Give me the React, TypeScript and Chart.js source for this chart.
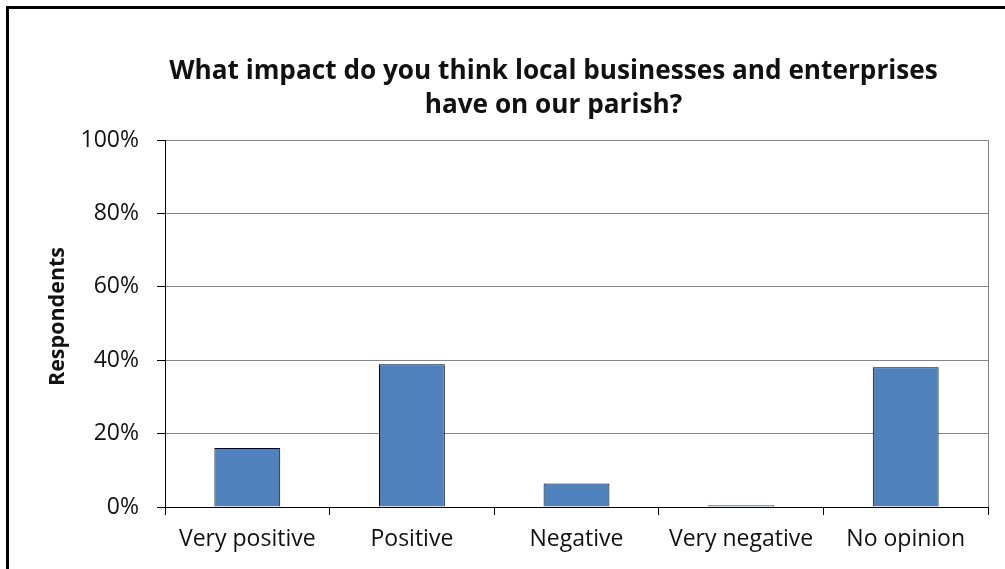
import React, { useEffect, useRef } from "react";
import { Chart, registerables } from "chart.js";

Chart.register(...registerables);

const categories = ["Very positive", "Positive", "Negative", "Very negative", "No opinion"];
const values = [16.1, 38.9, 6.4, 0.5, 38.1];
const yTicks = [0, 20, 40, 60, 80, 100];
const titleLines = ["What impact do you think local businesses and enterprises", "have on our parish?"];
const yTitle = "Respondents";

const textColor = "#111";

const plotBorder = {
  id: "plotBorder",
  beforeDatasetsDraw(chart: any) {
    const { ctx, chartArea } = chart;
    ctx.save();
    ctx.strokeStyle = "#808080";
    ctx.lineWidth = 1;
    ctx.beginPath();
    const x = Math.round(chartArea.right) + 0.5;
    ctx.moveTo(x, chartArea.top);
    ctx.lineTo(x, chartArea.bottom);
    ctx.stroke();
    ctx.restore();
  },
};

const titles = {
  id: "customTitles",
  afterDraw(chart: any) {
    const { ctx, chartArea } = chart;
    ctx.save();
    ctx.fillStyle = textColor;
    ctx.textAlign = "center";
    ctx.textBaseline = "middle";
    ctx.font = "bold 26.2px 'Open Sans'";
    const cx = chartArea.left + (chartArea.right - chartArea.left) * 0.472;
    titleLines.forEach((line, i) => {
      ctx.fillText(line, cx, chartArea.top - 68 + i * 34);
    });
    ctx.font = "bold 21.5px 'Open Sans'";
    ctx.translate(chartArea.left - 107, (chartArea.top + chartArea.bottom) / 2 - 7);
    ctx.rotate(-Math.PI / 2);
    ctx.fillText(yTitle, 0, 0);
    ctx.restore();
  },
};

export default function App() {
  const ref = useRef<HTMLCanvasElement>(null);
  useEffect(() => {
    if (!ref.current) return;
    const chart = new Chart(ref.current, {
      type: "bar",
      data: {
        labels: categories,
        datasets: [
          {
            data: values,
            backgroundColor: "#4F81BD",
            borderColor: "#000",
            borderWidth: 1,
            categoryPercentage: 0.4,
            barPercentage: 1,
          },
        ],
      },
      plugins: [plotBorder, titles],
      options: {
        animation: false,
        responsive: false,
        maintainAspectRatio: false,
        layout: { padding: { left: 0, right: 17, top: 140, bottom: 0 } },
        plugins: {
          legend: { display: false },
          tooltip: { enabled: false },
          title: { display: false },
        },
        scales: {
          x: {
            offset: true,
            grid: {
              offset: true,
              drawOnChartArea: false,
              drawTicks: true,
              tickLength: 8,
              tickColor: "#000",
            },
            border: { color: "#000", width: 1 },
            ticks: {
              color: textColor,
              font: { family: "Open Sans", size: 23 },
              padding: 11,
              maxRotation: 0,
              autoSkip: false,
            },
            afterFit(scale: any) {
              scale.height = 62;
            },
          },
          y: {
            min: 0,
            max: 100,
            afterBuildTicks(scale: any) {
              scale.ticks = yTicks.map((v) => ({ value: v }));
            },
            grid: {
              color: "#868686",
              tickColor: "#000",
              tickLength: 8,
            },
            border: { color: "#000", width: 1 },
            ticks: {
              color: textColor,
              font: { family: "Open Sans", size: 23 },
              padding: 18,
              callback: (v: any) => `${v}%`,
            },
            afterFit(scale: any) {
              scale.width = 165;
            },
          },
        },
      },
    });
    return () => chart.destroy();
  }, []);
  return (
    <div style={{ position: "fixed", inset: 0, overflow: "hidden", background: "#fff" }}>
      <div
        style={{
          position: "absolute",
          left: 6,
          top: 6,
          width: 1100,
          height: 700,
          border: "3px solid #000",
          boxSizing: "border-box",
        }}
      />
      <canvas
        ref={ref}
        width={1005}
        height={569}
        style={{ position: "absolute", left: 0, top: 0, width: 1005, height: 569 }}
      />
    </div>
  );
}
